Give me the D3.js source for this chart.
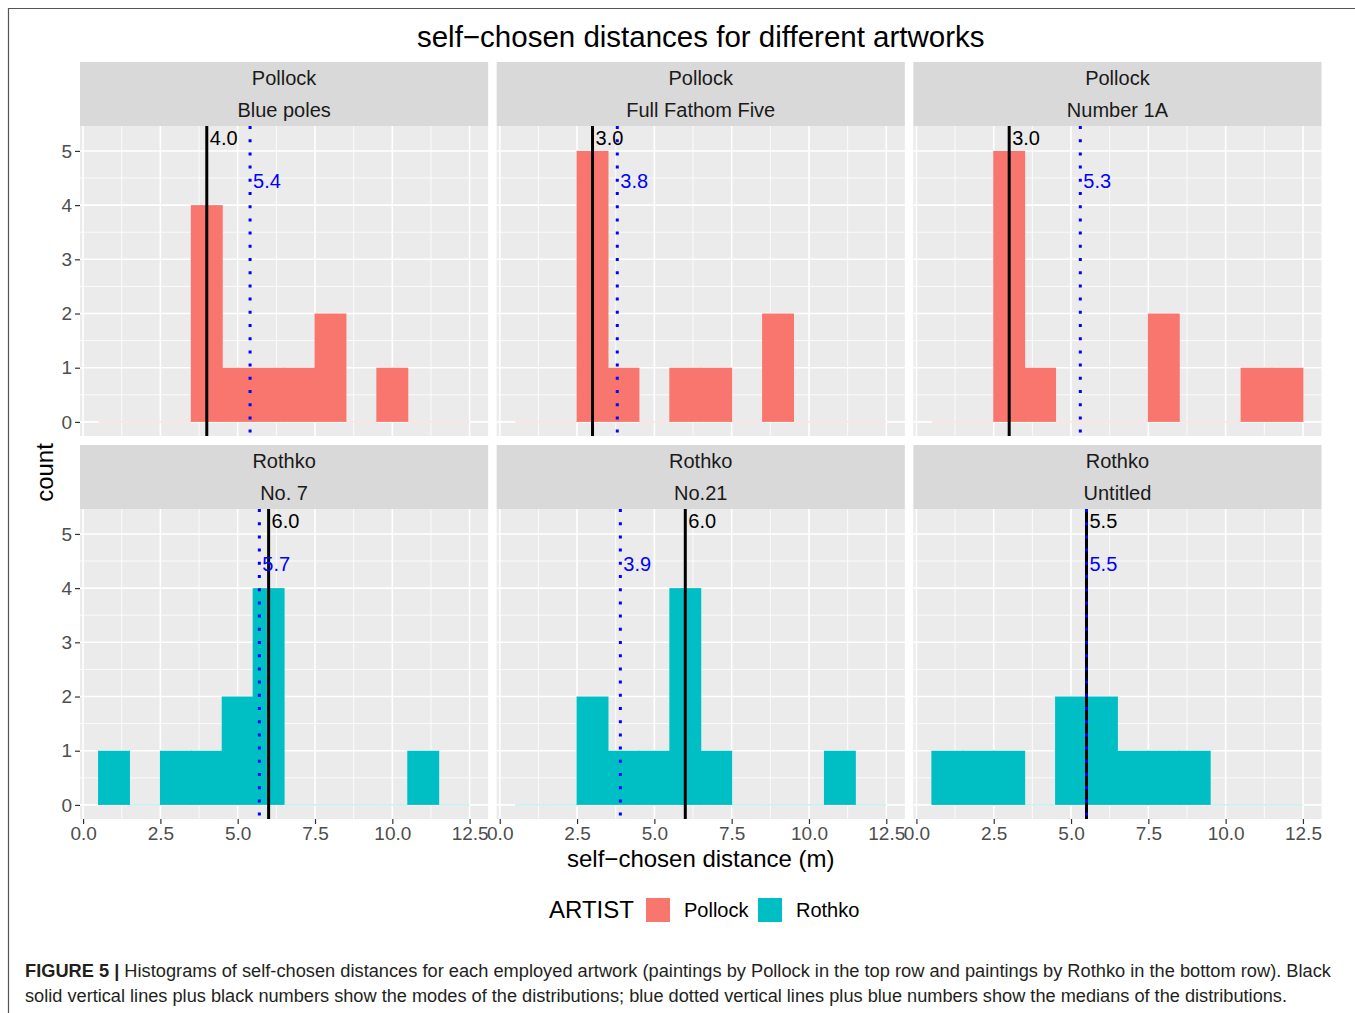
<!DOCTYPE html>
<html>
<head>
<meta charset="utf-8">
<script src="https://cdn.jsdelivr.net/npm/d3@7"></script>
<style>
  body { margin: 0; background: #fff; }
  text { font-family: "Liberation Sans", Arial, Helvetica, sans-serif; }
</style>
</head>
<body>
<div id="chart"></div>
<script>
// facet rows / columns
const artists = ["Pollock", "Rothko"];
const paintings = [
  ["Blue poles", "Full Fathom Five", "Number 1A"],
  ["No. 7", "No.21", "Untitled"]
];

// histogram bins of width 1, centred on 1..12
const binCenters = [1, 2, 3, 4, 5, 6, 7, 8, 9, 10, 11, 12];
const countsBluePoles = [0, 0, 0, 4, 1, 1, 1, 2, 0, 1, 0, 0];
const countsFullFathom = [0, 0, 5, 1, 0, 1, 1, 0, 2, 0, 0, 0];
const countsNumber1A = [0, 0, 5, 1, 0, 0, 0, 2, 0, 0, 1, 1];
const countsNo7 = [1, 0, 1, 1, 2, 4, 0, 0, 0, 0, 1, 0];
const countsNo21 = [0, 0, 2, 1, 1, 4, 1, 0, 0, 0, 1, 0];
const countsUntitled = [1, 1, 1, 0, 2, 2, 1, 1, 1, 0, 0, 0];
const allCounts = [
  [countsBluePoles, countsFullFathom, countsNumber1A],
  [countsNo7, countsNo21, countsUntitled]
];

// modes (black) and medians (blue)
const modes = [[4.0, 3.0, 3.0], [6.0, 6.0, 5.5]];
const medians = [[5.4, 3.8, 5.3], [5.7, 3.9, 5.5]];

const xTicks = [0, 2.5, 5, 7.5, 10, 12.5];
const xMinor = [1.25, 3.75, 6.25, 8.75, 11.25];
const yTicks = [0, 1, 2, 3, 4, 5];
const yMinor = [0.5, 1.5, 2.5, 3.5, 4.5];

const colors = { Pollock: "#F8766D", Rothko: "#00BFC4" };

const width = 1355, height = 1013;
const svg = d3.select("#chart").append("svg")
  .attr("width", width)
  .attr("height", height);

// page frame (top + left rule)
svg.append("line").attr("x1", 8).attr("x2", width).attr("y1", 8.5).attr("y2", 8.5)
  .attr("stroke", "#555").attr("stroke-width", 1.2);
svg.append("line").attr("x1", 8.5).attr("x2", 8.5).attr("y1", 8).attr("y2", height)
  .attr("stroke", "#555").attr("stroke-width", 1.2);

// layout
const panelLeft = 80, panelRight = 1321.5, gap = 8.5;
const panelW = (panelRight - panelLeft - 2 * gap) / 3;
const stripH = 64, plotH = 310;
const rowTop = [62, 445];

const binW = 1;
const xDataMin = binCenters[0] - binW / 2, xDataMax = binCenters[binCenters.length - 1] + binW / 2;
const xPad = (xDataMax - xDataMin) * 0.05;
const yDataMax = 5.2;
const yPad = yDataMax * 0.05;

const y = d3.scaleLinear().domain([-yPad, yDataMax + yPad]).range([plotH, 0]);

// title
svg.append("text")
  .attr("x", (panelLeft + panelRight) / 2).attr("y", 47)
  .attr("text-anchor", "middle")
  .style("font-size", "29.5px").attr("fill", "#000")
  .text("self\u2212chosen distances for different artworks");

artists.forEach((artist, r) => {
  paintings[r].forEach((painting, c) => {
    const px = panelLeft + c * (panelW + gap);
    const g = svg.append("g").attr("transform", `translate(${px},${rowTop[r]})`);
    const x = d3.scaleLinear().domain([xDataMin - xPad, xDataMax + xPad]).range([0, panelW]);

    // strip
    g.append("rect").attr("width", panelW).attr("height", stripH).attr("fill", "#D9D9D9");
    g.append("text").attr("x", panelW / 2).attr("y", 16)
      .attr("text-anchor", "middle").attr("dy", "0.35em")
      .style("font-size", "20px").attr("fill", "#1A1A1A").text(artist);
    g.append("text").attr("x", panelW / 2).attr("y", 48)
      .attr("text-anchor", "middle").attr("dy", "0.35em")
      .style("font-size", "20px").attr("fill", "#1A1A1A").text(painting);

    const p = g.append("g").attr("transform", `translate(0,${stripH})`);
    p.append("rect").attr("width", panelW).attr("height", plotH).attr("fill", "#EBEBEB");

    // grid
    p.selectAll(".xminor").data(xMinor).enter().append("line")
      .attr("x1", d => x(d)).attr("x2", d => x(d)).attr("y1", 0).attr("y2", plotH)
      .attr("stroke", "#fff").attr("stroke-width", 0.8);
    p.selectAll(".yminor").data(yMinor).enter().append("line")
      .attr("x1", 0).attr("x2", panelW).attr("y1", d => y(d)).attr("y2", d => y(d))
      .attr("stroke", "#fff").attr("stroke-width", 0.8);
    p.selectAll(".xmajor").data(xTicks).enter().append("line")
      .attr("x1", d => x(d)).attr("x2", d => x(d)).attr("y1", 0).attr("y2", plotH)
      .attr("stroke", "#fff").attr("stroke-width", 1.6);
    p.selectAll(".ymajor").data(yTicks).enter().append("line")
      .attr("x1", 0).attr("x2", panelW).attr("y1", d => y(d)).attr("y2", d => y(d))
      .attr("stroke", "#fff").attr("stroke-width", 1.6);

    // bars (drawn slightly overlapping so neighbouring bins show no seam)
    const bins = binCenters.map((b, i) => ({ x0: b - binW / 2, x1: b + binW / 2, n: allCounts[r][c][i] }));
    p.selectAll(".bar").data(bins.filter(d => d.n > 0)).enter().append("rect")
      .attr("x", d => x(d.x0) - 0.5).attr("width", d => x(d.x1) - x(d.x0) + 1)
      .attr("y", d => y(d.n)).attr("height", d => y(0) - y(d.n))
      .attr("fill", colors[artist]);
    p.selectAll(".zero").data(bins.filter(d => d.n === 0)).enter().append("line")
      .attr("x1", d => x(d.x0)).attr("x2", d => x(d.x1))
      .attr("y1", y(0)).attr("y2", y(0))
      .attr("stroke", colors[artist]).attr("stroke-opacity", 0.35).attr("stroke-width", 1);

    // mode line + label
    const mo = modes[r][c], me = medians[r][c];
    p.append("line").attr("x1", x(mo)).attr("x2", x(mo)).attr("y1", 0).attr("y2", plotH)
      .attr("stroke", "#000").attr("stroke-width", 3);
    p.append("text").attr("x", x(mo) + 3).attr("y", y(5.24)).attr("dy", "0.35em")
      .style("font-size", "20px").attr("fill", "#000").text(mo.toFixed(1));
    // median line + label
    p.append("line").attr("x1", x(me)).attr("x2", x(me)).attr("y1", 0).attr("y2", plotH)
      .attr("stroke", "#0000FF").attr("stroke-width", 3).attr("stroke-dasharray", "3 10.2");
    p.append("text").attr("x", x(me) + 3).attr("y", y(4.45)).attr("dy", "0.35em")
      .style("font-size", "20px").attr("fill", "#0000FF").text(me.toFixed(1));

    // y axis (left column only)
    if (c === 0) {
      const ya = p.append("g").call(d3.axisLeft(y).tickValues(yTicks).tickSize(5).tickPadding(3).tickFormat(d3.format("d")));
      ya.select(".domain").remove();
      ya.selectAll("line").attr("stroke", "#333").attr("stroke-width", 1.2);
      ya.selectAll("text").style("font-size", "19px").attr("fill", "#4D4D4D")
        .style("font-family", "'Liberation Sans', Arial, sans-serif");
    }
    // x axis (bottom row only)
    if (r === 1) {
      const xa = p.append("g").attr("transform", `translate(0,${plotH})`)
        .call(d3.axisBottom(x).tickValues(xTicks).tickSize(5).tickPadding(3).tickFormat(d3.format(".1f")));
      xa.select(".domain").remove();
      xa.selectAll("line").attr("stroke", "#333").attr("stroke-width", 1.2);
      xa.selectAll("text").style("font-size", "19px").attr("fill", "#4D4D4D")
        .style("font-family", "'Liberation Sans', Arial, sans-serif");
    }
  });
});

// axis titles
svg.append("text")
  .attr("x", (panelLeft + panelRight) / 2).attr("y", 859).attr("dy", "0.35em")
  .attr("text-anchor", "middle").style("font-size", "24px").attr("fill", "#000")
  .text("self\u2212chosen distance (m)");
const plotMidY = (rowTop[0] + stripH + rowTop[1] + stripH + plotH) / 2;
svg.append("text")
  .attr("transform", `translate(45,${plotMidY}) rotate(-90)`)
  .attr("dy", "0.35em").attr("text-anchor", "middle")
  .style("font-size", "24px").attr("fill", "#000").text("count");

// legend
const legend = svg.append("g").attr("transform", "translate(549,910)");
legend.append("text").attr("x", 0).attr("y", 0).attr("dy", "0.35em")
  .style("font-size", "24px").attr("fill", "#000").text("ARTIST");
const legendItems = [
  { name: "Pollock", kx: 97, tx: 135 },
  { name: "Rothko", kx: 209, tx: 247 }
];
legendItems.forEach(d => {
  legend.append("rect").attr("x", d.kx).attr("y", -12).attr("width", 24).attr("height", 24)
    .attr("fill", colors[d.name]);
  legend.append("text").attr("x", d.tx).attr("y", 0).attr("dy", "0.35em")
    .style("font-size", "20px").attr("fill", "#000").text(d.name);
});

// caption
const cap1 = svg.append("text").attr("x", 25).attr("y", 977)
  .style("font-size", "17.5px").attr("fill", "#231F20")
  .attr("textLength", 1306).attr("lengthAdjust", "spacingAndGlyphs");
cap1.append("tspan").style("font-weight", "bold").text("FIGURE 5 | ");
cap1.append("tspan").text("Histograms of self-chosen distances for each employed artwork (paintings by Pollock in the top row and paintings by Rothko in the bottom row). Black");
svg.append("text").attr("x", 25).attr("y", 1002)
  .style("font-size", "17.5px").attr("fill", "#231F20")
  .attr("textLength", 1262).attr("lengthAdjust", "spacingAndGlyphs")
  .text("solid vertical lines plus black numbers show the modes of the distributions; blue dotted vertical lines plus blue numbers show the medians of the distributions.");
</script>
</body>
</html>
